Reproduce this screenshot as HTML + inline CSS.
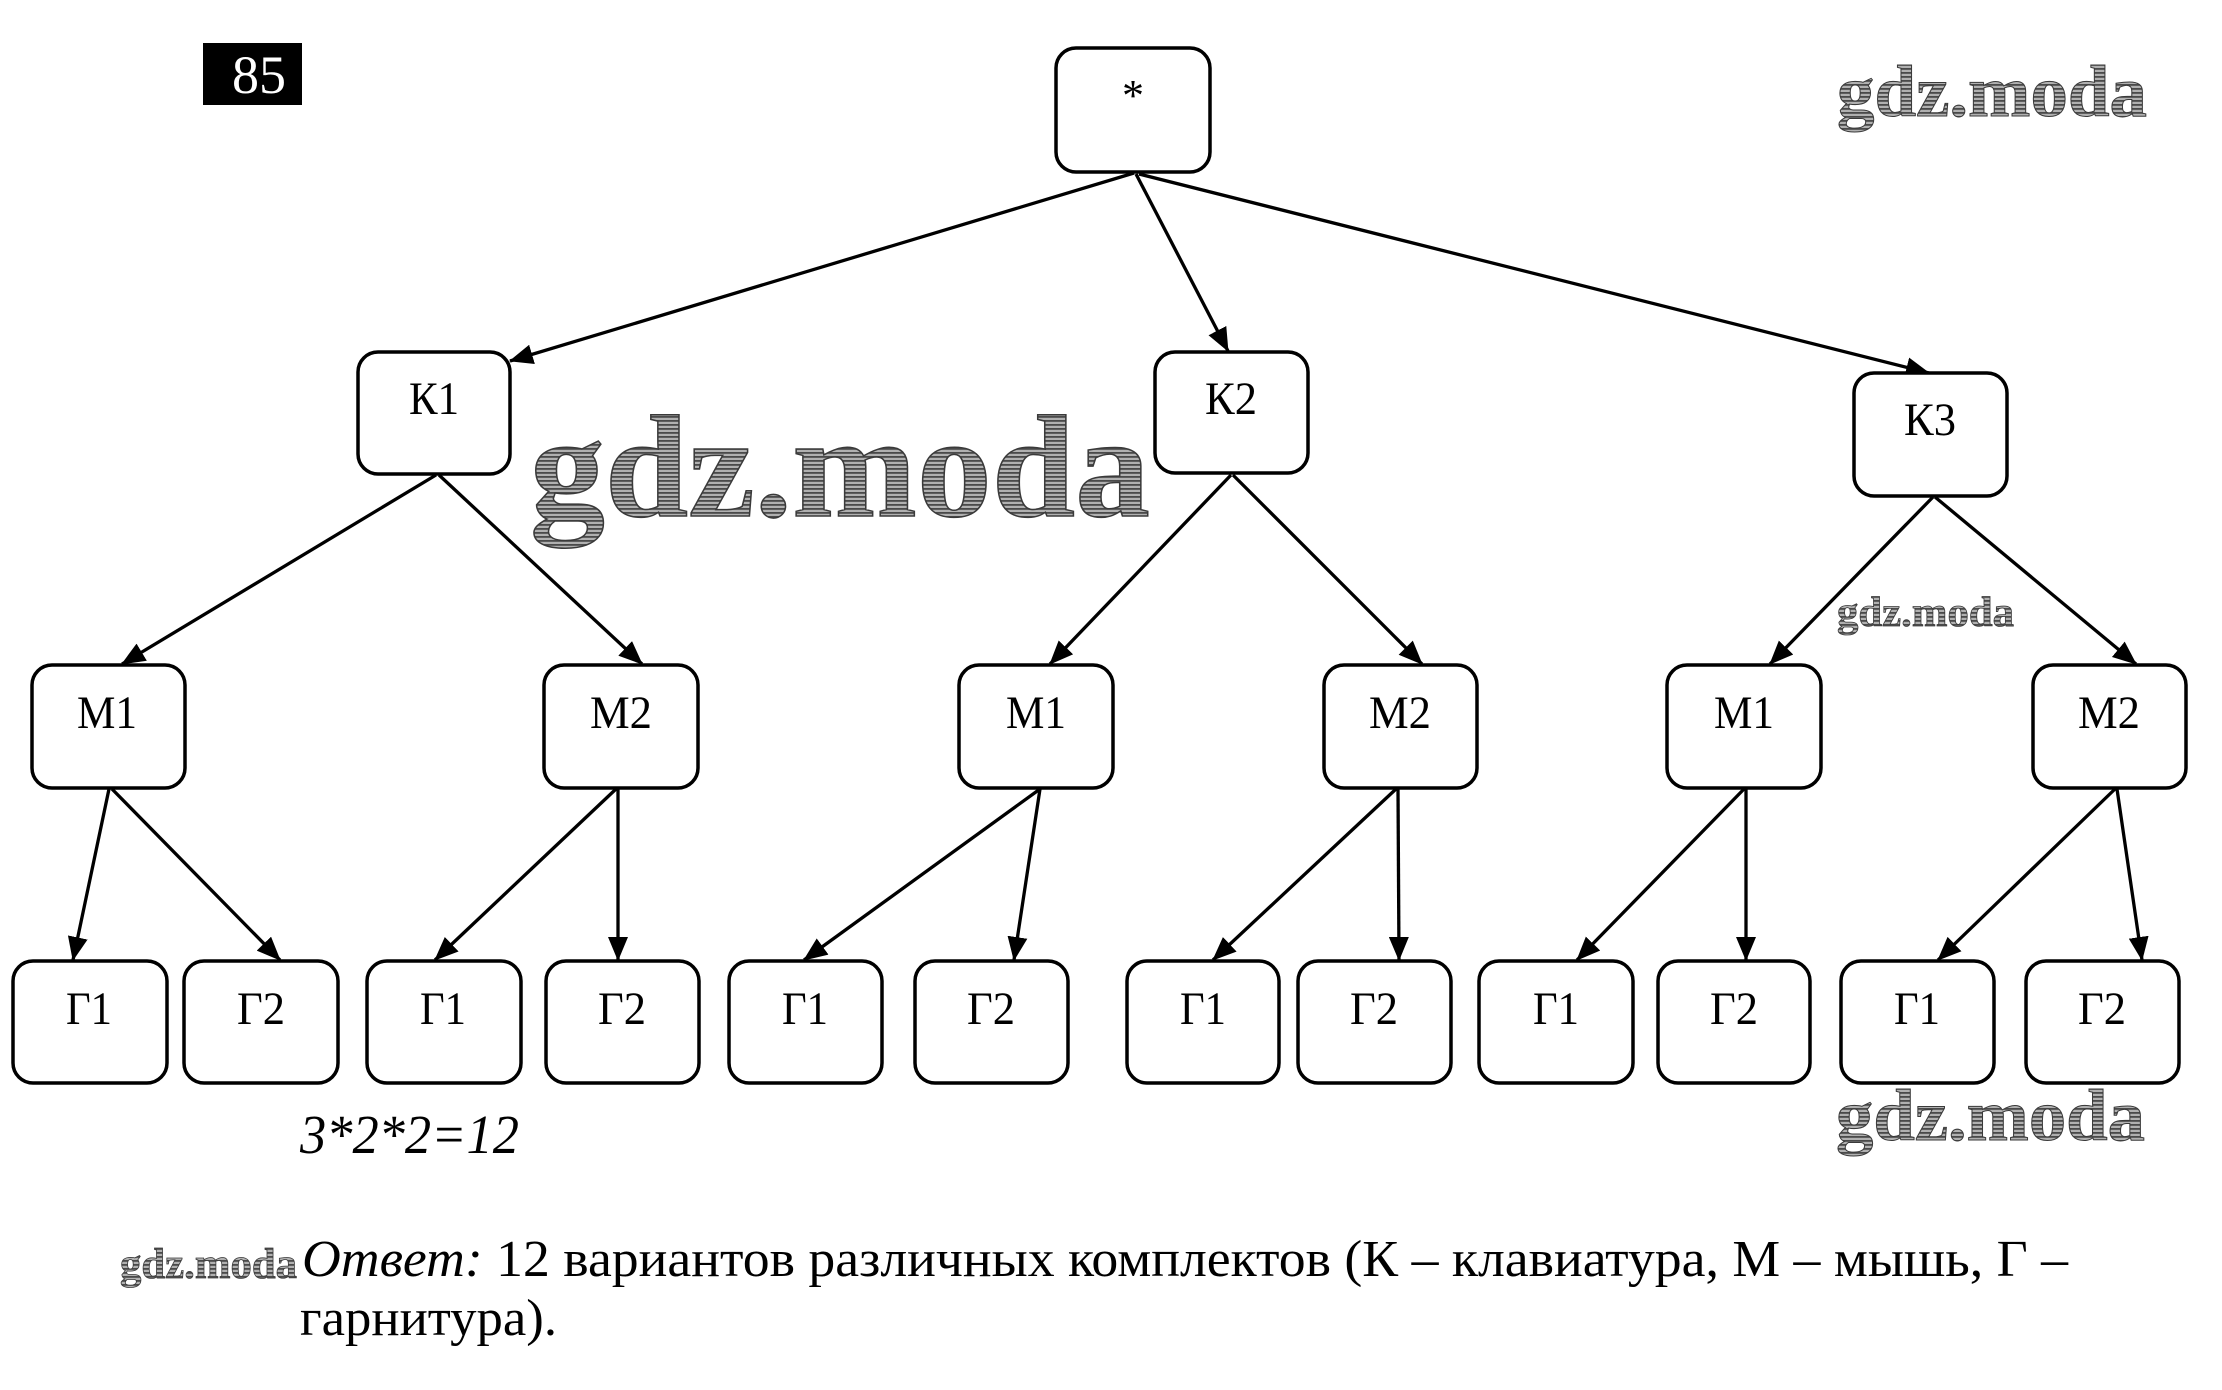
<!DOCTYPE html>
<html>
<head>
<meta charset="utf-8">
<style>
html,body{margin:0;padding:0;background:#fff;}
svg{display:block;}
</style>
</head>
<body>
<svg xmlns="http://www.w3.org/2000/svg" width="2222" height="1390" viewBox="0 0 2222 1390">
<defs>
<marker id="ar" markerUnits="userSpaceOnUse" markerWidth="24" markerHeight="20" refX="23" refY="10" orient="auto">
<path d="M0,0 L24,10 L0,20 z" fill="#000"/>
</marker>
<pattern id="h" width="6" height="4" patternUnits="userSpaceOnUse">
<rect width="6" height="4" fill="#b0b0b0"/>
<rect width="6" height="1.8" fill="#4a4a4a"/>
</pattern>
</defs>
<rect width="2222" height="1390" fill="#fff"/>

<!-- page number -->
<rect x="203" y="43" width="99" height="62" fill="#000"/>
<text x="259" y="93" font-family="Liberation Serif, serif" font-size="54" fill="#fff" text-anchor="middle">85</text>

<!-- edges -->
<g stroke="#000" stroke-width="3.3" fill="none" marker-end="url(#ar)">
<line x1="1134" y1="173" x2="510" y2="361"/>
<line x1="1136" y1="174" x2="1228" y2="351"/>
<line x1="1139" y1="174" x2="1929" y2="373"/>

<line x1="436" y1="475" x2="122" y2="664"/>
<line x1="439" y1="475" x2="642" y2="664"/>
<line x1="1231" y1="475" x2="1050" y2="664"/>
<line x1="1233" y1="475" x2="1422" y2="664"/>
<line x1="1933" y1="497" x2="1770" y2="664"/>
<line x1="1935" y1="497" x2="2136" y2="664"/>

<line x1="109" y1="789" x2="73" y2="960"/>
<line x1="112" y1="789" x2="280" y2="960"/>
<line x1="616" y1="789" x2="435" y2="960"/>
<line x1="618" y1="789" x2="618" y2="960"/>
<line x1="1040" y1="789" x2="804" y2="960"/>
<line x1="1040" y1="789" x2="1014" y2="960"/>
<line x1="1396" y1="789" x2="1213" y2="960"/>
<line x1="1398" y1="789" x2="1399" y2="960"/>
<line x1="1744" y1="789" x2="1577" y2="960"/>
<line x1="1746" y1="789" x2="1746" y2="960"/>
<line x1="2115" y1="789" x2="1938" y2="960"/>
<line x1="2117" y1="789" x2="2142" y2="960"/>
</g>

<!-- boxes -->
<g fill="#fff" stroke="#000" stroke-width="3.5">
<rect x="1056" y="48" width="154" height="124" rx="20" ry="20"/>
<rect x="358" y="352" width="152" height="122" rx="20" ry="20"/>
<rect x="1155" y="352" width="153" height="121" rx="20" ry="20"/>
<rect x="1854" y="373" width="153" height="123" rx="20" ry="20"/>

<rect x="32" y="665" width="153" height="123" rx="20" ry="20"/>
<rect x="544" y="665" width="154" height="123" rx="20" ry="20"/>
<rect x="959" y="665" width="154" height="123" rx="20" ry="20"/>
<rect x="1324" y="665" width="153" height="123" rx="20" ry="20"/>
<rect x="1667" y="665" width="154" height="123" rx="20" ry="20"/>
<rect x="2033" y="665" width="153" height="123" rx="20" ry="20"/>

<rect x="13" y="961" width="154" height="122" rx="20" ry="20"/>
<rect x="184" y="961" width="154" height="122" rx="20" ry="20"/>
<rect x="367" y="961" width="154" height="122" rx="20" ry="20"/>
<rect x="546" y="961" width="153" height="122" rx="20" ry="20"/>
<rect x="729" y="961" width="153" height="122" rx="20" ry="20"/>
<rect x="915" y="961" width="153" height="122" rx="20" ry="20"/>
<rect x="1127" y="961" width="152" height="122" rx="20" ry="20"/>
<rect x="1298" y="961" width="153" height="122" rx="20" ry="20"/>
<rect x="1479" y="961" width="154" height="122" rx="20" ry="20"/>
<rect x="1658" y="961" width="152" height="122" rx="20" ry="20"/>
<rect x="1841" y="961" width="153" height="122" rx="20" ry="20"/>
<rect x="2026" y="961" width="153" height="122" rx="20" ry="20"/>
</g>

<!-- labels -->
<g font-family="Liberation Serif, 'Noto Serif CJK SC', serif" font-size="47" fill="#000" text-anchor="middle" lengthAdjust="spacingAndGlyphs">
<text x="1133" y="110" font-size="44">*</text>
<text x="434" y="414" textLength="50" lengthAdjust="spacingAndGlyphs">К1</text>
<text x="1231" y="414" textLength="52" lengthAdjust="spacingAndGlyphs">К2</text>
<text x="1930" y="435" textLength="52" lengthAdjust="spacingAndGlyphs">К3</text>

<text x="107" y="728" textLength="60" lengthAdjust="spacingAndGlyphs">М1</text>
<text x="621" y="728" textLength="62" lengthAdjust="spacingAndGlyphs">М2</text>
<text x="1036" y="728" textLength="60" lengthAdjust="spacingAndGlyphs">М1</text>
<text x="1400" y="728" textLength="62" lengthAdjust="spacingAndGlyphs">М2</text>
<text x="1744" y="728" textLength="60" lengthAdjust="spacingAndGlyphs">М1</text>
<text x="2109" y="728" textLength="62" lengthAdjust="spacingAndGlyphs">М2</text>

<text x="89" y="1024" textLength="46" lengthAdjust="spacingAndGlyphs">Г1</text>
<text x="261" y="1024" textLength="48" lengthAdjust="spacingAndGlyphs">Г2</text>
<text x="443" y="1024" textLength="46" lengthAdjust="spacingAndGlyphs">Г1</text>
<text x="622" y="1024" textLength="48" lengthAdjust="spacingAndGlyphs">Г2</text>
<text x="805" y="1024" textLength="46" lengthAdjust="spacingAndGlyphs">Г1</text>
<text x="991" y="1024" textLength="48" lengthAdjust="spacingAndGlyphs">Г2</text>
<text x="1203" y="1024" textLength="46" lengthAdjust="spacingAndGlyphs">Г1</text>
<text x="1374" y="1024" textLength="48" lengthAdjust="spacingAndGlyphs">Г2</text>
<text x="1556" y="1024" textLength="46" lengthAdjust="spacingAndGlyphs">Г1</text>
<text x="1734" y="1024" textLength="48" lengthAdjust="spacingAndGlyphs">Г2</text>
<text x="1917" y="1024" textLength="46" lengthAdjust="spacingAndGlyphs">Г1</text>
<text x="2102" y="1024" textLength="48" lengthAdjust="spacingAndGlyphs">Г2</text>
</g>

<!-- formula -->
<text x="300" y="1153" font-family="Liberation Serif, serif" font-size="55" font-style="italic" fill="#000" textLength="219" lengthAdjust="spacingAndGlyphs">3*2*2=12</text>

<!-- answer text -->
<text x="302" y="1276" font-family="Liberation Serif, 'Noto Serif CJK SC', serif" font-size="52" fill="#000" textLength="1766" lengthAdjust="spacingAndGlyphs"><tspan font-style="italic">Ответ:</tspan> 12 вариантов различных комплектов (К – клавиатура, М – мышь, Г –</text>
<text x="300" y="1335" font-family="Liberation Serif, 'Noto Serif CJK SC', serif" font-size="52" fill="#000" textLength="257" lengthAdjust="spacingAndGlyphs">гарнитура).</text>

<!-- watermarks -->
<g font-family="Liberation Serif, serif" font-weight="bold" fill="url(#h)" stroke="#3a3a3a" stroke-width="1.5">
<text x="530" y="516" font-size="146" textLength="620" lengthAdjust="spacingAndGlyphs">gdz.moda</text>
<text x="1837" y="116" font-size="73" textLength="310" lengthAdjust="spacingAndGlyphs" stroke-width="1">gdz.moda</text>
<text x="1837" y="626" font-size="42" textLength="177" lengthAdjust="spacingAndGlyphs" stroke-width="0.8">gdz.moda</text>
<text x="1836" y="1140" font-size="73" textLength="309" lengthAdjust="spacingAndGlyphs" stroke-width="1">gdz.moda</text>
<text x="120" y="1278" font-size="43" textLength="177" lengthAdjust="spacingAndGlyphs" stroke-width="0.8">gdz.moda</text>
</g>
</svg>
</body>
</html>
